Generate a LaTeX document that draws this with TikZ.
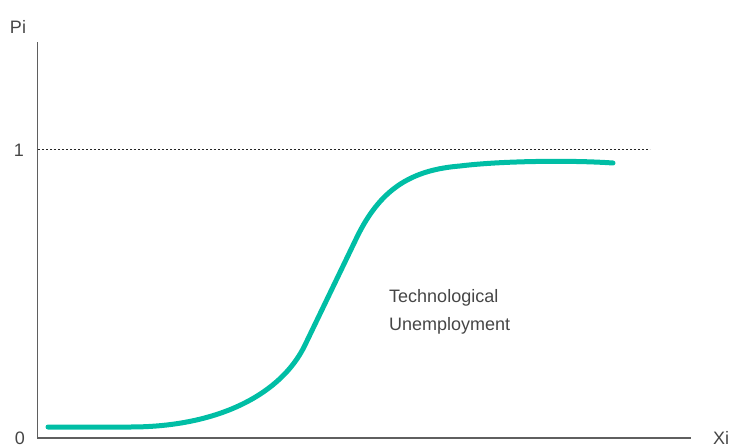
\documentclass[tikz,border=0pt]{standalone}
\usepackage{fontspec}
\setmainfont{Liberation Sans}
\definecolor{curveteal}{RGB}{0,190,165}
\definecolor{labelgray}{RGB}{70,70,70}
\definecolor{axisgray}{RGB}{95,95,95}
\begin{document}
\begin{tikzpicture}[
x=1pt, y=-1pt,
every node/.style={font=\fontsize{18}{28}\selectfont, text=labelgray, inner sep=0pt},
axis/.style={draw=axisgray, line width=1.3pt},
level/.style={draw=black!85, line width=0.9pt, dash pattern=on 2pt off 2pt},
scurve/.style={draw=curveteal, line width=5pt, line cap=round}
]
\useasboundingbox (0,0) rectangle (730,447);

% axes
\coordinate (origin) at (37.5,438);
\coordinate (ytop) at (37.5,42);
\coordinate (xend) at (691,438);
\draw[axis] (ytop) -- (origin) -- (xend);

% level one
\coordinate (oneleft) at (38,149);
\coordinate (oneright) at (650,149);
\draw[level] (oneleft) -- (oneright);

% labels
\node[anchor=base] (pi) at (18,33) {Pi};
\node[anchor=base] (one) at (19,156) {1};
\node[anchor=base] (zero) at (20,444.5) {0};
\node[anchor=base] (xi) at (721,444.5) {Xi};
\node[anchor=north west, align=left] (techun) at (389,289) {Technological\\Unemployment};

% s-curve
\draw[scurve] (48,427) -- (130,427)
  .. controls (220,427) and (282,393) .. (305,345)
  -- (357,237)
  .. controls (380,190) and (410,170) .. (460,166)
  .. controls (500,161) and (570,160) .. (613,163);

\end{tikzpicture}
\end{document}
